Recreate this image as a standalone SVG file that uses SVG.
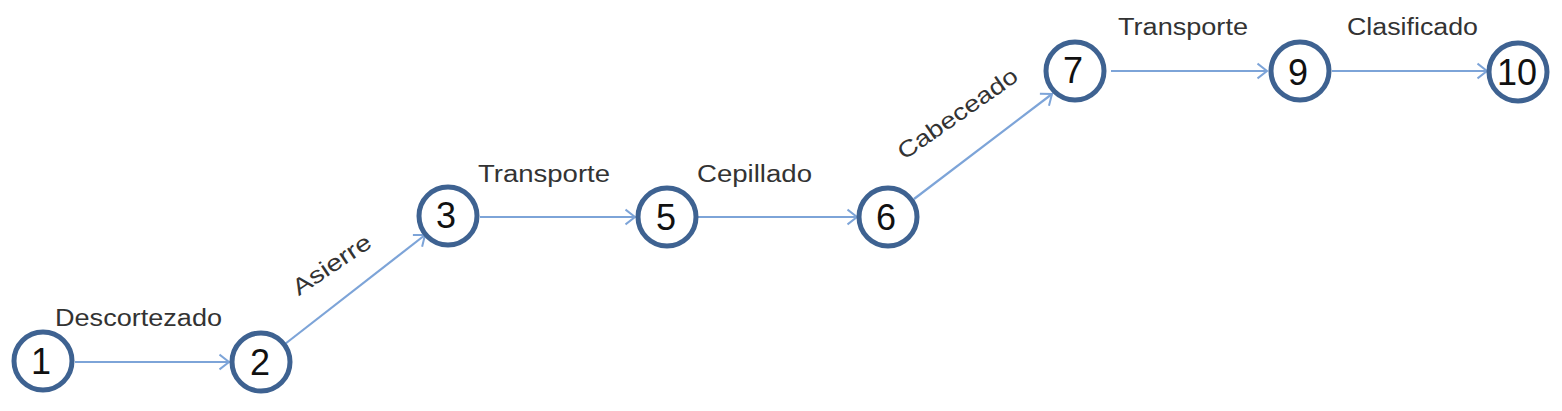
<svg xmlns="http://www.w3.org/2000/svg" width="1562" height="411" viewBox="0 0 1562 411">
<style>
.node circle{fill:#fff;stroke:#3E6291;stroke-width:5}
.node text{font-family:"Liberation Sans",Arial,sans-serif;font-size:36px;fill:#111;text-anchor:middle}
.lbl{font-family:"Liberation Sans",Arial,sans-serif;font-size:23px;fill:#333}
.edges line{stroke:#7DA4D8;stroke-width:2.2;fill:none}
</style>
<defs>
<marker id="arr" viewBox="0 0 12 18" refX="10.5" refY="9" markerWidth="12" markerHeight="18" markerUnits="userSpaceOnUse" orient="auto">
<path d="M1,1.5 L10.5,9 L1,16.5" fill="none" stroke="#7DA4D8" stroke-width="2"/>
</marker>
</defs>
<rect width="1562" height="411" fill="#fff"/>
<g class="edges">
<line x1="75" y1="362" x2="229" y2="362" marker-end="url(#arr)"/>
<line x1="285" y1="344" x2="425" y2="235" marker-end="url(#arr)"/>
<line x1="480" y1="217" x2="635" y2="217" marker-end="url(#arr)"/>
<line x1="698" y1="217" x2="857" y2="217" marker-end="url(#arr)"/>
<line x1="914" y1="199" x2="1052" y2="94" marker-end="url(#arr)"/>
<line x1="1111" y1="71" x2="1267" y2="71" marker-end="url(#arr)"/>
<line x1="1332" y1="71" x2="1487" y2="71" marker-end="url(#arr)"/>
</g>
<g class="labels">
<text class="lbl" x="55" y="326" textLength="167" lengthAdjust="spacingAndGlyphs">Descortezado</text>
<text class="lbl" x="336" y="271" text-anchor="middle" transform="rotate(-34 336 271)" textLength="90" lengthAdjust="spacingAndGlyphs">Asierre</text>
<text class="lbl" x="478" y="182" textLength="132" lengthAdjust="spacingAndGlyphs">Transporte</text>
<text class="lbl" x="697" y="182" textLength="115" lengthAdjust="spacingAndGlyphs">Cepillado</text>
<text class="lbl" x="962" y="120" text-anchor="middle" transform="rotate(-35 962 120)" textLength="141" lengthAdjust="spacingAndGlyphs">Cabeceado</text>
<text class="lbl" x="1118" y="35" textLength="130" lengthAdjust="spacingAndGlyphs">Transporte</text>
<text class="lbl" x="1347" y="35" textLength="131" lengthAdjust="spacingAndGlyphs">Clasificado</text>
</g>
<g id="node1" class="node"><circle cx="43" cy="361" r="29"/><text x="41" y="374">1</text></g>
<g id="node2" class="node"><circle cx="261" cy="362" r="29"/><text x="260" y="375">2</text></g>
<g id="node3" class="node"><circle cx="448" cy="216" r="29"/><text x="446" y="228">3</text></g>
<g id="node5" class="node"><circle cx="667" cy="217" r="29"/><text x="666" y="230">5</text></g>
<g id="node6" class="node"><circle cx="888" cy="217" r="29"/><text x="886" y="230">6</text></g>
<g id="node7" class="node"><circle cx="1075" cy="71" r="29"/><text x="1073" y="83">7</text></g>
<g id="node9" class="node"><circle cx="1300" cy="71" r="29"/><text x="1298" y="85">9</text></g>
<g id="node10" class="node"><circle cx="1518" cy="72" r="29"/><text x="1517" y="85">10</text></g>
</svg>
